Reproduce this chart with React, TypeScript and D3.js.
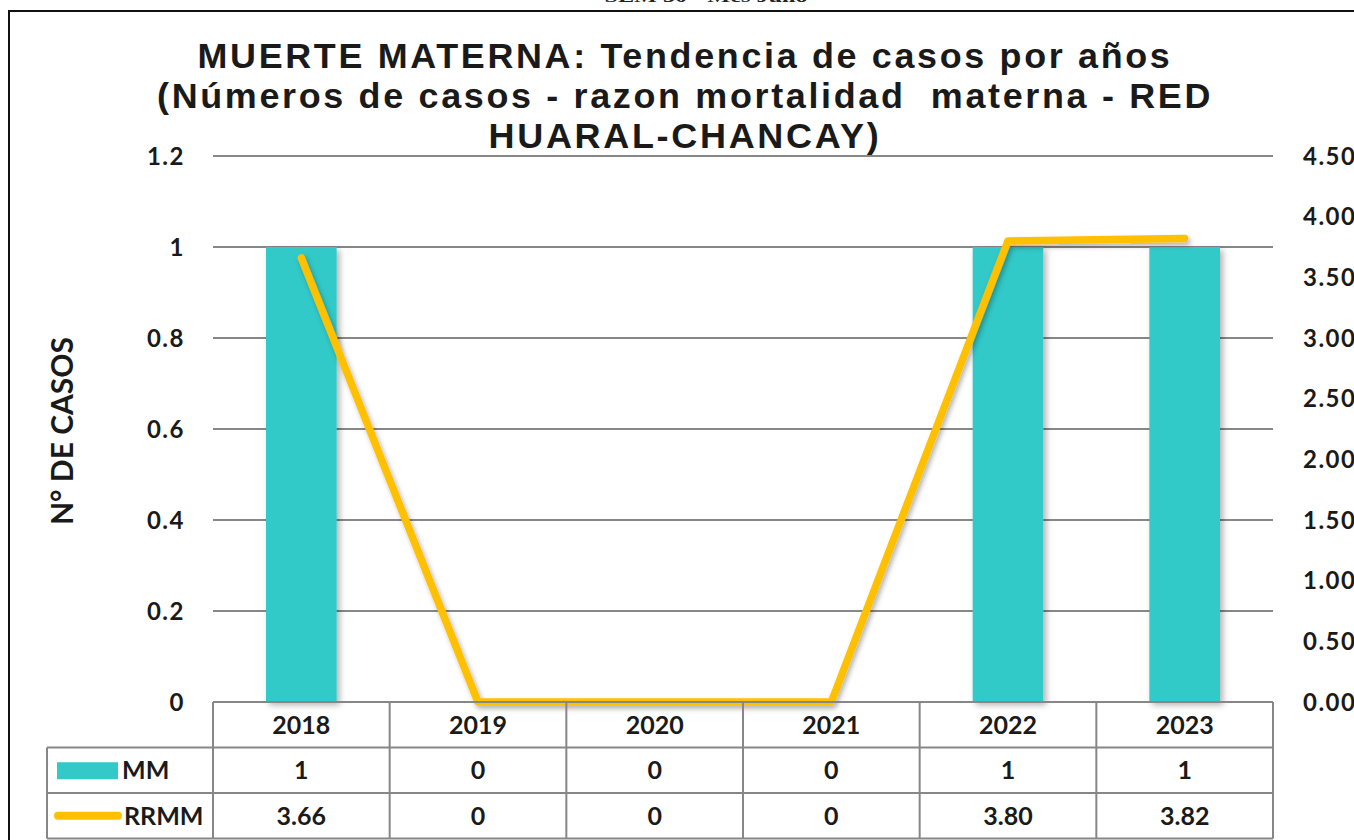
import React from "react";
import * as d3 from "d3";

const years = ["2018", "2019", "2020", "2021", "2022", "2023"];
const mmValues = [1, 0, 0, 0, 1, 1];
const rrmmValues = [3.66, 0, 0, 0, 3.8, 3.82];
const rrmmLabels = ["3.66", "0", "0", "0", "3.80", "3.82"];
const leftTicks = [0, 0.2, 0.4, 0.6, 0.8, 1, 1.2];
const rightTicks = [0, 0.5, 1, 1.5, 2, 2.5, 3, 3.5, 4, 4.5];
const titleLines = [
  "MUERTE MATERNA: Tendencia de casos por años",
  "(Números de casos - razon mortalidad  materna - RED",
  "HUARAL-CHANCAY)",
];

const W = 1354;
const H = 840;
const plotLeft = 213;
const plotRight = 1273;
const plotTop = 156;
const plotBottom = 702;
const rowH = 45.5;
const legendLeft = 47;

const TEAL = "#33C9C9";
const GOLD = "#FFC000";
const GRID = "#878787";
const TXT = "#1a1a1a";
const FONT = "Lato, 'Noto Sans', sans-serif";

export default function App() {
  const x = d3.scaleBand<string>().domain(years).range([plotLeft, plotRight]).padding(0);
  const yL = d3.scaleLinear().domain([0, 1.2]).range([plotBottom, plotTop]);
  const yR = d3.scaleLinear().domain([0, 4.5]).range([plotBottom, plotTop]);
  const bw = x.bandwidth();
  const barW = bw * 0.4;
  const cx = (y: string) => (x(y) as number) + bw / 2;

  const line = d3
    .line<number>()
    .x((_, i) => cx(years[i]))
    .y((d) => yR(d));

  const titleWidths = [975, 1056, 393];
  const titleY = [68, 108, 148];
  const titleCx = 685;

  const row1 = plotBottom;
  const row2 = plotBottom + rowH;
  const row3 = plotBottom + 2 * rowH;
  const row4 = plotBottom + 3 * rowH;

  return (
    <svg
      width={W}
      height={H}
      style={{ position: "absolute", left: 0, top: 0, background: "#fff" }}
    >
      <defs>
        <filter id="shadow" x="-20%" y="-20%" width="140%" height="140%">
          <feDropShadow dx="3" dy="3" stdDeviation="3" floodColor="#000" floodOpacity="0.3" />
        </filter>
        <filter id="lshadow" x="-10%" y="-10%" width="120%" height="120%">
          <feDropShadow dx="2" dy="3" stdDeviation="2.5" floodColor="#000" floodOpacity="0.3" />
        </filter>
      </defs>
      <rect width={W} height={H} fill="#fff" />
      {/* clipped header text from page */}
      <text
        x={706}
        y={2}
        textAnchor="middle"
        fontFamily="'Liberation Serif', serif"
        fontWeight="bold"
        fontSize={16}
        textLength={203}
        lengthAdjust="spacingAndGlyphs"
        fill="#222"
      >
        SEM 30 - Mes Julio
      </text>
      {/* frame */}
      <rect x={9} y={11} width={W + 20} height={H + 20} fill="none" stroke="#111" strokeWidth={2} />

      {/* title */}
      {titleLines.map((t, i) => (
        <text
          key={i}
          x={titleCx}
          y={titleY[i]}
          textAnchor="middle"
          fontFamily="'Liberation Sans', Arial, sans-serif"
          fontWeight="bold"
          fontSize={35}
          letterSpacing={2.6}
          textLength={titleWidths[i]}
          lengthAdjust="spacingAndGlyphs"
          fill={TXT}
          style={{ whiteSpace: "pre" }}
        >
          {t}
        </text>
      ))}

      {/* gridlines */}
      {leftTicks
        .filter((t) => t > 0)
        .map((t) => (
          <line key={t} x1={plotLeft} x2={plotRight} y1={yL(t)} y2={yL(t)} stroke={GRID} strokeWidth={2} />
        ))}

      {/* left tick labels */}
      {leftTicks.map((t) => (
        <text
          key={t}
          x={185}
          y={yL(t)}
          dy="0.36em"
          textAnchor="end"
          fontFamily={FONT}
          fontWeight="bold"
          fontSize={24}
          letterSpacing={1.5}
          fill={TXT}
        >
          {String(t)}
        </text>
      ))}

      {/* right tick labels */}
      {rightTicks.map((t) => (
        <text
          key={t}
          x={1303}
          y={yR(t)}
          dy="0.36em"
          textAnchor="start"
          fontFamily={FONT}
          fontWeight="bold"
          fontSize={24}
          letterSpacing={1.5}
          fill={TXT}
        >
          {t.toFixed(2)}
        </text>
      ))}

      {/* y axis title */}
      <text
        transform={`translate(73,431) rotate(-90)`}
        textAnchor="middle"
        fontFamily={FONT}
        fontWeight="bold"
        fontSize={30}
        fill={TXT}
      >
        N° DE CASOS
      </text>

      {/* bars */}
      {years.map((y, i) =>
        mmValues[i] > 0 ? (
          <rect
            key={y}
            x={cx(y) - barW / 2}
            y={yL(mmValues[i])}
            width={barW}
            height={plotBottom - yL(mmValues[i])}
            fill={TEAL}
            filter="url(#shadow)"
          />
        ) : null
      )}

      {/* line */}
      <path
        d={line(rrmmValues) || ""}
        fill="none"
        stroke={GOLD}
        strokeWidth={7.5}
        strokeLinecap="round"
        strokeLinejoin="round"
        filter="url(#lshadow)"
      />

      {/* data table */}
      <g stroke={GRID} strokeWidth={2} fill="none">
        <line x1={plotLeft} x2={plotRight} y1={row1} y2={row1} />
        <line x1={legendLeft} x2={plotRight} y1={row2} y2={row2} />
        <line x1={legendLeft} x2={plotRight} y1={row3} y2={row3} />
        <line x1={legendLeft} x2={plotRight} y1={row4} y2={row4} />
        <line x1={legendLeft} x2={legendLeft} y1={row2} y2={row4} />
        {years.map((y) => (
          <line key={y} x1={x(y) as number} x2={x(y) as number} y1={row1} y2={row4} />
        ))}
        <line x1={plotRight} x2={plotRight} y1={row1} y2={row4} />
      </g>
      {years.map((y, i) => (
        <g key={y} fontFamily={FONT} fontWeight="bold" fontSize={25} fill={TXT} textAnchor="middle">
          <text x={cx(y)} y={(row1 + row2) / 2} dy="0.36em">
            {y}
          </text>
          <text x={cx(y)} y={(row2 + row3) / 2} dy="0.36em">
            {String(mmValues[i])}
          </text>
          <text x={cx(y)} y={(row3 + row4) / 2} dy="0.36em">
            {rrmmLabels[i]}
          </text>
        </g>
      ))}
      {/* legend keys */}
      <rect x={57} y={(row2 + row3) / 2 - 8} width={61} height={17} fill={TEAL} />
      <text x={122} y={(row2 + row3) / 2} dy="0.36em" fontFamily={FONT} fontWeight="bold" fontSize={25} fill={TXT}>
        MM
      </text>
      <line
        x1={58}
        x2={118}
        y1={(row3 + row4) / 2}
        y2={(row3 + row4) / 2}
        stroke={GOLD}
        strokeWidth={8}
        strokeLinecap="round"
      />
      <text x={124} y={(row3 + row4) / 2} dy="0.36em" fontFamily={FONT} fontWeight="bold" fontSize={25} fill={TXT}>
        RRMM
      </text>
    </svg>
  );
}
